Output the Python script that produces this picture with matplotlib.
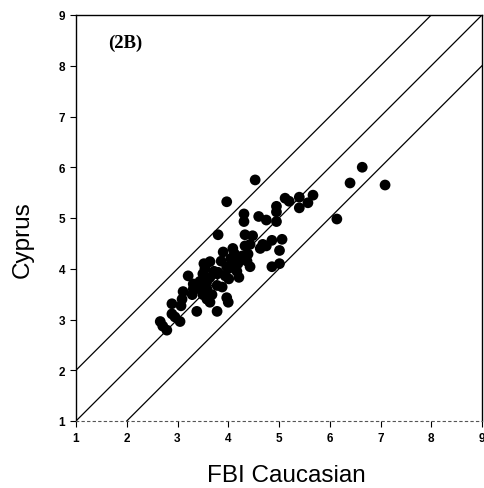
import matplotlib
matplotlib.use("Agg")
import matplotlib.pyplot as plt
import numpy as np

fbi_caucasian = [3.97, 4.53, 6.14, 6.40, 6.64, 7.09, 5.12, 5.20, 5.40, 5.67,
                 5.57, 5.40, 4.95, 4.95, 4.95, 4.60, 4.75, 4.31, 4.31, 4.33,
                 4.48, 4.86, 5.06, 5.01, 4.68, 4.09, 3.90, 5.01, 4.86, 3.80,
                 4.75, 4.43, 4.33, 4.63, 4.39, 4.23, 4.37, 4.19, 4.43, 4.17,
                 3.97, 3.80, 3.64, 3.54, 3.50, 3.94, 3.78, 3.64, 4.01, 4.21,
                 3.21, 3.44, 3.58, 3.78, 3.88, 3.58, 3.44, 3.31, 3.50, 3.68,
                 3.58, 3.64, 3.97, 4.00, 3.78, 3.38, 3.29, 3.09, 3.07, 2.89,
                 2.89, 2.95, 3.05, 2.66, 2.71, 2.79, 3.11, 3.31, 3.52, 4.05,
                 4.12, 3.86, 4.00, 3.72, 4.10, 4.27, 3.48]
cyprus = [5.32, 5.75, 4.98, 5.69, 6.00, 5.65, 5.39, 5.33, 5.41, 5.45,
          5.30, 5.20, 5.23, 5.12, 4.93, 5.03, 4.96, 5.08, 4.93, 4.67,
          4.65, 4.56, 4.58, 4.36, 4.48, 4.40, 4.33, 4.10, 4.04, 4.67,
          4.45, 4.48, 4.45, 4.40, 4.29, 4.21, 4.15, 4.10, 4.04, 3.95,
          4.04, 3.93, 4.14, 4.00, 3.90, 3.86, 3.90, 3.83, 3.80, 3.83,
          3.86, 3.75, 3.75, 3.67, 3.64, 3.60, 3.60, 3.60, 3.49, 3.49,
          3.40, 3.34, 3.43, 3.34, 3.16, 3.16, 3.49, 3.40, 3.27, 3.31,
          3.11, 3.05, 2.96, 2.96, 2.87, 2.79, 3.55, 3.70, 4.10, 4.20,
          4.30, 4.15, 4.00, 3.95, 4.05, 4.25, 3.62]

ticks = [1, 2, 3, 4, 5, 6, 7, 8, 9]
offsets = [1, 0, -1]

fig = plt.figure(figsize=(4.84, 4.89), dpi=100)
ax = fig.add_axes([76/484, 1 - 422/489, 406/484, 406/489])

x = np.array([1, 9])
for off in offsets:
    ax.plot(x, x + off, color="black", lw=0.9, zorder=1)

ax.scatter(fbi_caucasian, cyprus, s=60, color="black", edgecolors="none", zorder=2)

ax.set_xlim(1, 9)
ax.set_ylim(1, 9)
ax.set_xticks(ticks)
ax.set_yticks(ticks)
ax.tick_params(axis="both", direction="out", length=4, width=0.8, labelsize=8.5,
               pad=4)
for lab in ax.get_xticklabels() + ax.get_yticklabels():
    lab.set_family("Liberation Sans")
    lab.set_fontweight("bold")

ax.spines["bottom"].set_linestyle((0, (2, 3)))
ax.spines["bottom"].set_color("#555555")
ax.spines["bottom"].set_linewidth(0.8)
for s in ["left", "top", "right"]:
    ax.spines[s].set_linewidth(1.0)

ax.set_xlabel("FBI Caucasian", family="Liberation Sans", fontsize=17.5, va="center")
ax.set_ylabel("Cyprus", family="Liberation Sans", fontsize=17.5, va="center")
ax.xaxis.set_label_coords(0.517, -0.133)
ax.yaxis.set_label_coords(-0.13, 0.45)

ax.text(1.97, 8.47, "(2B)", family="Liberation Serif", fontweight="bold",
        fontsize=13.5, ha="center", va="center")

fig.savefig("out.png", dpi=100)
